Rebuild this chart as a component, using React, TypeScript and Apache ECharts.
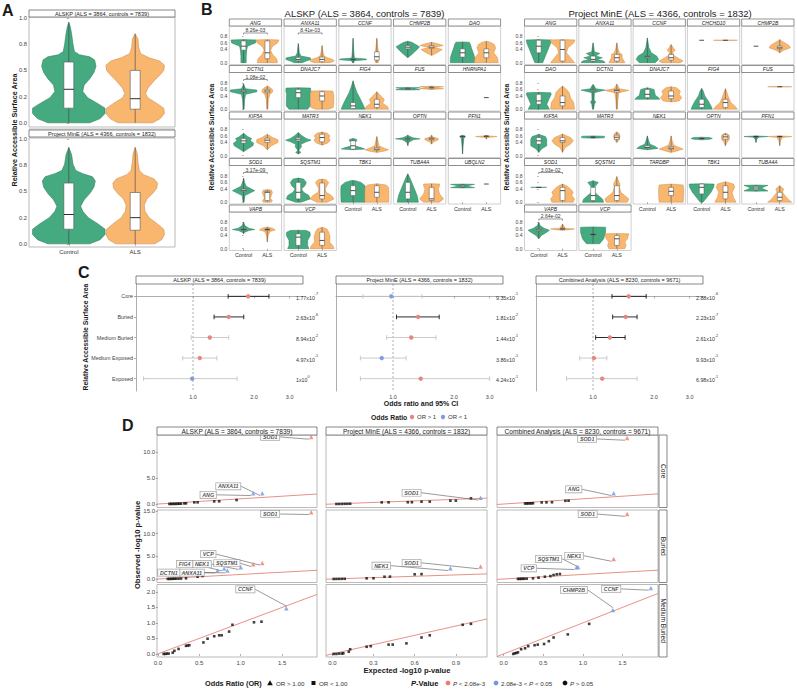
import React, { useEffect, useRef } from "react";
import * as echarts from "echarts";

const FF = "'Liberation Sans', Arial, Helvetica, sans-serif";
const GREEN = "#46AA80";
const GREEN_EDGE = "#2F7F5D";
const ORANGE = "#F9B66F";
const ORANGE_EDGE = "#CF8E4B";
const RED_PT = "#EC7C6C";
const BLUE_PT = "#7497DC";

// ---------------- Panel A ----------------
const groups = ["Control", "ALS"];
const aTitles = ["ALSKP (ALS = 3864, controls = 7839)", "Project MinE (ALS = 4366, controls = 1832)"];
const aTickValues = [0, 0.25, 0.5, 0.75, 1];
const aTickLabels = ["0.0", "0.2", "0.5", "0.8", "1.0"];
const aControlViolins = [
  [[0, 0.3], [0.04, 0.45], [0.09, 0.52], [0.14, 0.52], [0.19, 0.4], [0.24, 0.27], [0.3, 0.2], [0.36, 0.22], [0.42, 0.3], [0.48, 0.36], [0.54, 0.39], [0.6, 0.37], [0.63, 0.3], [0.65, 0.15], [0.68, 0.08], [0.75, 0.06], [0.85, 0.04], [0.92, 0.02], [0.96, 0]],
  [[0, 0.3], [0.04, 0.45], [0.09, 0.52], [0.14, 0.52], [0.19, 0.42], [0.25, 0.28], [0.31, 0.2], [0.36, 0.17], [0.42, 0.22], [0.48, 0.3], [0.54, 0.36], [0.6, 0.38], [0.64, 0.34], [0.67, 0.2], [0.7, 0.1], [0.76, 0.06], [0.85, 0.04], [0.92, 0]],
];
const aAlsViolins = [
  [[0, 0.25], [0.04, 0.36], [0.09, 0.42], [0.14, 0.41], [0.19, 0.3], [0.24, 0.18], [0.28, 0.15], [0.33, 0.18], [0.4, 0.27], [0.46, 0.36], [0.5, 0.41], [0.55, 0.42], [0.59, 0.35], [0.62, 0.2], [0.66, 0.08], [0.72, 0.05], [0.8, 0.04], [0.85, 0]],
  [[0, 0.28], [0.04, 0.38], [0.09, 0.42], [0.14, 0.41], [0.19, 0.32], [0.25, 0.2], [0.31, 0.14], [0.37, 0.13], [0.43, 0.17], [0.48, 0.25], [0.53, 0.31], [0.58, 0.32], [0.62, 0.27], [0.66, 0.12], [0.7, 0.06], [0.78, 0.04], [0.86, 0.03], [0.92, 0]],
];
const aControlBoxes = [[0, 0.14, 0.32, 0.58, 0.96], [0, 0.14, 0.28, 0.58, 0.92]];
const aAlsBoxes = [[0, 0.13, 0.23, 0.5, 0.85], [0, 0.13, 0.25, 0.49, 0.92]];

// ---------------- Panel B ----------------
const bTitles = ["ALSKP (ALS = 3864, controls = 7839)", "Project MinE (ALS = 4366, controls = 1832)"];
const bTickValues = [0, 0.4, 0.6, 0.8];

const alskpGenes = ["ANG", "ANXA11", "CCNF", "CHMP2B", "DAO", "DCTN1", "DNAJC7", "FIG4", "FUS", "HNRNPA1", "KIF5A", "MATR3", "NEK1", "OPTN", "PFN1", "SOD1", "SQSTM1", "TBK1", "TUBA4A", "UBQLN2", "VAPB", "VCP"];
const alskpControlViolins = [
  [[0, 0.1], [0.2, 0.1], [0.4, 0.12], [0.5, 0.15], [0.55, 0.3], [0.6, 0.45], [0.69, 0.47], [0.7, 0]],
  [[0, 0.15], [0.05, 0.3], [0.1, 0.47], [0.15, 0.45], [0.2, 0.1], [0.3, 0.04], [0.45, 0.02], [0.58, 0]],
  [[0, 0.03], [0.06, 0.05], [0.09, 0.5], [0.11, 0.5], [0.14, 0.05], [0.3, 0.03], [0.74, 0]],
  [[0.15, 0], [0.25, 0.15], [0.4, 0.35], [0.48, 0.44], [0.55, 0.3], [0.62, 0.15], [0.65, 0]],
  [[0, 0.46], [0.15, 0.46], [0.3, 0.4], [0.45, 0.33], [0.55, 0.3], [0.62, 0.25], [0.63, 0]],
  [[0, 0.02], [0.3, 0.04], [0.45, 0.08], [0.53, 0.5], [0.58, 0.5], [0.62, 0.08], [0.7, 0.03], [0.77, 0]],
  [[0, 0.35], [0.1, 0.45], [0.3, 0.45], [0.45, 0.44], [0.55, 0.47], [0.64, 0.46], [0.65, 0]],
  [[0, 0.45], [0.1, 0.4], [0.3, 0.28], [0.5, 0.15], [0.7, 0.06], [0.86, 0]],
  [[0.58, 0], [0.59, 0.45], [0.62, 0.2], [0.65, 0.45], [0.66, 0]],
  null,
  [[0.12, 0], [0.2, 0.15], [0.3, 0.35], [0.38, 0.38], [0.45, 0.25], [0.52, 0.3], [0.58, 0.15], [0.68, 0]],
  [[0.05, 0], [0.1, 0.1], [0.15, 0.02], [0.2, 0.05], [0.27, 0.12], [0.35, 0.1], [0.42, 0.3], [0.47, 0.48], [0.52, 0.3], [0.6, 0.15], [0.7, 0]],
  [[0.18, 0], [0.2, 0.44], [0.23, 0.35], [0.3, 0.06], [0.42, 0.06], [0.45, 0.15], [0.5, 0.12], [0.52, 0]],
  [[0.3, 0], [0.4, 0.03], [0.48, 0.2], [0.51, 0.46], [0.54, 0.2], [0.6, 0.03], [0.63, 0]],
  [[0.05, 0], [0.3, 0.02], [0.54, 0.05], [0.57, 0.1], [0.6, 0.08], [0.62, 0]],
  [[0, 0.02], [0.2, 0.05], [0.3, 0.3], [0.35, 0.42], [0.4, 0.3], [0.48, 0.1], [0.6, 0.04], [0.73, 0]],
  [[0, 0.1], [0.1, 0.45], [0.2, 0.4], [0.3, 0.2], [0.4, 0.12], [0.5, 0.25], [0.6, 0.3], [0.7, 0.2], [0.73, 0]],
  [[0, 0.45], [0.2, 0.46], [0.4, 0.46], [0.5, 0.45], [0.6, 0.3], [0.65, 0.1], [0.66, 0]],
  [[0, 0.4], [0.2, 0.35], [0.4, 0.25], [0.6, 0.15], [0.75, 0.07], [0.86, 0]],
  [[0.43, 0], [0.44, 0.45], [0.49, 0.15], [0.54, 0.45], [0.55, 0]],
  [[0.45, 0], [0.5, 0.05], [0.55, 0.2], [0.58, 0.42], [0.62, 0.2], [0.7, 0.05], [0.8, 0]],
  [[0, 0.4], [0.1, 0.35], [0.25, 0.35], [0.4, 0.45], [0.5, 0.44], [0.55, 0.3], [0.56, 0]],
];
const alskpAlsViolins = [
  [[0, 0.38], [0.12, 0.35], [0.25, 0.2], [0.38, 0.12], [0.5, 0.2], [0.6, 0.38], [0.69, 0.44], [0.7, 0]],
  [[0, 0.3], [0.05, 0.46], [0.1, 0.4], [0.15, 0.2], [0.2, 0.08], [0.3, 0.04], [0.52, 0]],
  [[0, 0.05], [0.1, 0.08], [0.3, 0.06], [0.5, 0.03], [0.74, 0]],
  [[0.22, 0], [0.3, 0.2], [0.4, 0.4], [0.46, 0.1], [0.52, 0.44], [0.58, 0.2], [0.62, 0]],
  [[0, 0.45], [0.15, 0.42], [0.3, 0.28], [0.45, 0.35], [0.55, 0.3], [0.62, 0.15], [0.65, 0]],
  [[0, 0.02], [0.3, 0.04], [0.45, 0.1], [0.52, 0.2], [0.6, 0.19], [0.66, 0.1], [0.7, 0]],
  [[0, 0.25], [0.05, 0.42], [0.2, 0.44], [0.4, 0.44], [0.5, 0.42], [0.55, 0.4], [0.56, 0]],
  [[0, 0.45], [0.08, 0.4], [0.18, 0.22], [0.3, 0.28], [0.4, 0.15], [0.53, 0]],
  [[0.6, 0], [0.62, 0.45], [0.65, 0.15], [0.68, 0.45], [0.7, 0]],
  null,
  [[0.18, 0], [0.3, 0.15], [0.4, 0.4], [0.48, 0.4], [0.55, 0.2], [0.65, 0]],
  [[0.32, 0], [0.38, 0.2], [0.45, 0.3], [0.55, 0.25], [0.6, 0.3], [0.68, 0.2], [0.72, 0]],
  [[0.1, 0], [0.14, 0.3], [0.18, 0.44], [0.22, 0.3], [0.3, 0.08], [0.45, 0.04], [0.58, 0]],
  [[0.35, 0], [0.42, 0.08], [0.48, 0.25], [0.52, 0.25], [0.56, 0.08], [0.62, 0]],
  [[0.5, 0], [0.55, 0.05], [0.58, 0.4], [0.6, 0.05], [0.62, 0]],
  [[0, 0.15], [0.05, 0.19], [0.12, 0.1], [0.2, 0.15], [0.3, 0.19], [0.37, 0.15], [0.38, 0]],
  [[0, 0.2], [0.1, 0.45], [0.2, 0.35], [0.3, 0.15], [0.4, 0.12], [0.5, 0.18], [0.6, 0.25], [0.68, 0.15], [0.7, 0]],
  [[0, 0.45], [0.3, 0.45], [0.45, 0.44], [0.52, 0.35], [0.56, 0]],
  [[0, 0.3], [0.1, 0.45], [0.25, 0.3], [0.4, 0.25], [0.5, 0.3], [0.55, 0.3], [0.56, 0]],
  null,
  [[0.2, 0], [0.4, 0.03], [0.52, 0.1], [0.57, 0.3], [0.62, 0.2], [0.66, 0]],
  [[0, 0.45], [0.1, 0.4], [0.2, 0.28], [0.35, 0.3], [0.5, 0.25], [0.6, 0.18], [0.65, 0]],
];
const alskpControlBoxes = [
  [0, 0.38, 0.5, 0.66, 0.7], [0, 0.06, 0.1, 0.16, 0.58], [0, 0.09, 0.1, 0.12, 0.74], [0.15, 0.42, 0.47, 0.52, 0.65], [0, 0.17, 0.3, 0.42, 0.63],
  [0, 0.52, 0.55, 0.58, 0.77], [0, 0.35, 0.5, 0.6, 0.65], [0, 0.02, 0.1, 0.2, 0.86], [0.58, 0.6, 0.62, 0.64, 0.66], null,
  [0.12, 0.38, 0.45, 0.52, 0.68], [0.05, 0.45, 0.5, 0.55, 0.7], [0.18, 0.2, 0.3, 0.45, 0.52], [0.3, 0.49, 0.51, 0.53, 0.63], [0.05, 0.56, 0.58, 0.6, 0.62],
  [0, 0.33, 0.36, 0.4, 0.73], [0, 0.1, 0.3, 0.6, 0.73], [0, 0.2, 0.35, 0.5, 0.66], [0, 0.1, 0.3, 0.6, 0.86], [0.43, 0.46, 0.49, 0.52, 0.55],
  [0.45, 0.56, 0.58, 0.6, 0.8], [0, 0.1, 0.35, 0.45, 0.56],
];
const alskpAlsBoxes = [
  [0, 0.12, 0.3, 0.66, 0.7], [0, 0.03, 0.1, 0.17, 0.52], [0, 0.08, 0.18, 0.33, 0.74], [0.22, 0.43, 0.47, 0.52, 0.62], [0, 0.15, 0.3, 0.42, 0.65],
  [0, 0.5, 0.55, 0.6, 0.7], [0, 0.25, 0.4, 0.53, 0.56], [0, 0.05, 0.15, 0.3, 0.53], [0.6, 0.62, 0.65, 0.67, 0.7], [0.35, 0.35, 0.35, 0.35, 0.35],
  [0.18, 0.4, 0.47, 0.53, 0.65], [0.32, 0.42, 0.55, 0.65, 0.72], [0.1, 0.17, 0.2, 0.25, 0.58], [0.35, 0.48, 0.51, 0.54, 0.62], [0.5, 0.58, 0.59, 0.6, 0.62],
  [0, 0.05, 0.3, 0.33, 0.38], [0, 0.1, 0.2, 0.58, 0.7], [0, 0.15, 0.3, 0.5, 0.56], [0, 0.05, 0.1, 0.45, 0.56], [0.55, 0.55, 0.55, 0.55, 0.55],
  [0.2, 0.56, 0.58, 0.6, 0.66], [0, 0.1, 0.25, 0.5, 0.65],
];
const alskpSigGenes = ["ANG", "ANXA11", "DCTN1", "SOD1"];
const alskpSigP = ["8.26e-03", "8.41e-03", "1.08e-02", "3.17e-09"];

const mineGenes = ["ANG", "ANXA11", "CCNF", "CHCHD10", "CHMP2B", "DAO", "DCTN1", "DNAJC7", "FIG4", "FUS", "KIF5A", "MATR3", "NEK1", "OPTN", "PFN1", "SOD1", "SQSTM1", "TARDBP", "TBK1", "TUBA4A", "VAPB", "VCP"];
const mineControlViolins = [
  [[0, 0.15], [0.2, 0.25], [0.4, 0.35], [0.6, 0.45], [0.69, 0.47], [0.7, 0]],
  [[0, 0.45], [0.05, 0.4], [0.1, 0.15], [0.15, 0.35], [0.2, 0.1], [0.28, 0.25], [0.33, 0.05], [0.45, 0.03], [0.6, 0]],
  [[0, 0.3], [0.1, 0.42], [0.2, 0.35], [0.3, 0.15], [0.45, 0.06], [0.6, 0.03], [0.75, 0]],
  null,
  null,
  [[0, 0.4], [0.15, 0.3], [0.3, 0.38], [0.45, 0.47], [0.5, 0.45], [0.51, 0]],
  [[0, 0.02], [0.15, 0.05], [0.22, 0.1], [0.28, 0.04], [0.5, 0.05], [0.58, 0.45], [0.62, 0.1], [0.7, 0.05], [0.75, 0]],
  [[0.3, 0.47], [0.35, 0.42], [0.42, 0.3], [0.5, 0.28], [0.6, 0.25], [0.65, 0]],
  [[0, 0.4], [0.1, 0.35], [0.25, 0.25], [0.4, 0.12], [0.55, 0.06], [0.63, 0]],
  null,
  [[0.1, 0], [0.2, 0.1], [0.3, 0.3], [0.4, 0.3], [0.5, 0.3], [0.58, 0.25], [0.62, 0.1], [0.65, 0]],
  [[0.53, 0], [0.54, 0.4], [0.57, 0.45], [0.59, 0.4], [0.6, 0]],
  [[0.18, 0], [0.22, 0.4], [0.28, 0.3], [0.35, 0.1], [0.45, 0.05], [0.6, 0]],
  [[0.48, 0], [0.5, 0.3], [0.52, 0.4], [0.55, 0.3], [0.56, 0]],
  [[0.4, 0], [0.5, 0.03], [0.56, 0.1], [0.58, 0.45], [0.6, 0]],
  [[0.445, 0], [0.45, 0.3], [0.455, 0]],
  [[0, 0.4], [0.1, 0.35], [0.2, 0.2], [0.3, 0.06], [0.45, 0.06], [0.55, 0.15], [0.6, 0.2], [0.65, 0]],
  null,
  [[0, 0.05], [0.15, 0.2], [0.3, 0.35], [0.45, 0.45], [0.55, 0.47], [0.56, 0]],
  [[0.33, 0], [0.34, 0.45], [0.43, 0.2], [0.51, 0.45], [0.52, 0]],
  [[0.3, 0], [0.4, 0.1], [0.5, 0.3], [0.56, 0.4], [0.62, 0.2], [0.7, 0.05], [0.8, 0]],
  [[0.15, 0.25], [0.3, 0.4], [0.5, 0.47], [0.65, 0.47], [0.66, 0]],
];
const mineAlsViolins = [
  [[0, 0.45], [0.15, 0.3], [0.3, 0.15], [0.45, 0.2], [0.6, 0.42], [0.69, 0.47], [0.7, 0]],
  [[0, 0.3], [0.08, 0.25], [0.15, 0.2], [0.25, 0.2], [0.3, 0.1], [0.4, 0.05], [0.6, 0]],
  [[0, 0.35], [0.05, 0.45], [0.12, 0.3], [0.22, 0.1], [0.3, 0.06], [0.38, 0.15], [0.45, 0.08], [0.55, 0]],
  [[0.675, 0], [0.68, 0.45], [0.685, 0]],
  [[0.3, 0], [0.38, 0.15], [0.45, 0.4], [0.52, 0.35], [0.6, 0.2], [0.65, 0.08], [0.7, 0]],
  [[0, 0.45], [0.2, 0.42], [0.35, 0.3], [0.5, 0.25], [0.6, 0.15], [0.7, 0]],
  [[0, 0.02], [0.3, 0.04], [0.5, 0.08], [0.57, 0.45], [0.62, 0.1], [0.72, 0.03], [0.76, 0]],
  [[0.22, 0], [0.25, 0.3], [0.35, 0.4], [0.45, 0.3], [0.55, 0.35], [0.65, 0.2], [0.68, 0]],
  [[0, 0.45], [0.1, 0.35], [0.2, 0.2], [0.3, 0.15], [0.4, 0.1], [0.5, 0.06], [0.62, 0]],
  [[0.675, 0], [0.68, 0.45], [0.685, 0]],
  [[0.1, 0], [0.25, 0.1], [0.35, 0.3], [0.45, 0.4], [0.55, 0.3], [0.62, 0.1], [0.66, 0]],
  [[0.4, 0], [0.5, 0.1], [0.6, 0.12], [0.68, 0.08], [0.72, 0]],
  [[0.1, 0], [0.15, 0.25], [0.2, 0.45], [0.25, 0.3], [0.32, 0.1], [0.45, 0.04], [0.6, 0]],
  [[0.3, 0], [0.4, 0.05], [0.5, 0.15], [0.6, 0.15], [0.65, 0.1], [0.68, 0]],
  [[0.3, 0], [0.45, 0.03], [0.55, 0.1], [0.58, 0.45], [0.6, 0]],
  [[0, 0.4], [0.1, 0.45], [0.2, 0.35], [0.3, 0.4], [0.4, 0.3], [0.5, 0.15], [0.55, 0]],
  [[0, 0.4], [0.1, 0.45], [0.2, 0.3], [0.3, 0.15], [0.45, 0.1], [0.55, 0.12], [0.65, 0.06], [0.78, 0]],
  [[0, 0.45], [0.2, 0.47], [0.4, 0.47], [0.52, 0.45], [0.55, 0]],
  [[0, 0.4], [0.15, 0.3], [0.3, 0.25], [0.45, 0.35], [0.55, 0.3], [0.62, 0]],
  [[0, 0.45], [0.1, 0.3], [0.2, 0.2], [0.3, 0.1], [0.4, 0.15], [0.5, 0]],
  [[0.56, 0], [0.57, 0.2], [0.6, 0.45], [0.62, 0.1], [0.7, 0.04], [0.75, 0]],
  [[0, 0.3], [0.1, 0.35], [0.2, 0.3], [0.3, 0.4], [0.45, 0.45], [0.46, 0]],
];
const mineControlBoxes = [
  [0, 0.3, 0.5, 0.68, 0.7], [0, 0.05, 0.1, 0.2, 0.6], [0, 0.15, 0.18, 0.2, 0.75], [0.68, 0.68, 0.68, 0.68, 0.68], [0.5, 0.5, 0.5, 0.5, 0.5],
  [0, 0.15, 0.25, 0.45, 0.51], [0, 0.55, 0.58, 0.6, 0.75], [0.3, 0.35, 0.45, 0.6, 0.65], [0, 0.05, 0.15, 0.3, 0.63], null,
  [0.1, 0.35, 0.45, 0.55, 0.65], [0.53, 0.55, 0.56, 0.57, 0.6], [0.18, 0.22, 0.25, 0.3, 0.6], [0.48, 0.5, 0.52, 0.54, 0.56], [0.4, 0.57, 0.58, 0.59, 0.6],
  [0.45, 0.45, 0.45, 0.45, 0.45], [0, 0.05, 0.2, 0.45, 0.65], null, [0, 0.25, 0.45, 0.55, 0.56], [0.33, 0.38, 0.43, 0.48, 0.52],
  [0.3, 0.54, 0.57, 0.6, 0.8], [0.15, 0.42, 0.43, 0.44, 0.66],
];
const mineAlsBoxes = [
  [0, 0.05, 0.4, 0.68, 0.7], [0, 0.05, 0.15, 0.25, 0.6], [0, 0.08, 0.15, 0.25, 0.55], [0.68, 0.68, 0.68, 0.68, 0.68], [0.3, 0.42, 0.45, 0.5, 0.7],
  [0, 0.1, 0.2, 0.4, 0.7], [0, 0.52, 0.57, 0.6, 0.76], [0.22, 0.32, 0.4, 0.55, 0.68], [0, 0.05, 0.2, 0.3, 0.62], [0.68, 0.68, 0.68, 0.68, 0.68],
  [0.1, 0.4, 0.45, 0.55, 0.66], [0.4, 0.5, 0.56, 0.62, 0.72], [0.1, 0.2, 0.23, 0.28, 0.6], [0.3, 0.5, 0.57, 0.63, 0.68], [0.3, 0.57, 0.58, 0.59, 0.6],
  [0, 0.05, 0.35, 0.45, 0.55], [0, 0.05, 0.2, 0.5, 0.78], [0, 0.2, 0.33, 0.45, 0.55], [0, 0.1, 0.3, 0.5, 0.62], [0, 0.05, 0.15, 0.3, 0.5],
  [0.56, 0.58, 0.6, 0.62, 0.75], [0, 0.1, 0.3, 0.4, 0.46],
];
const mineSigGenes = ["SOD1", "VAPB"];
const mineSigP = ["3.03e-02", "2.64e-02"];

// ---------------- Panel C ----------------
const cTitles = ["ALSKP (ALS = 3864, controls = 7839)", "Project MinE (ALS = 4366, controls = 1832)", "Combined Analysis (ALS = 8230, controls = 9671)"];
const cLevels = ["Core", "Buried", "Medium Buried", "Medium Exposed", "Exposed"];
const cTicks = [1, 2, 3];
const cOrALSKP = [1.87, 1.5, 1.21, 1.08, 0.99];
const cLoALSKP = [1.49, 1.27, 0.98, 0.89, 0.57];
const cHiALSKP = [2.37, 1.78, 1.5, 1.31, 1.65];
const cPALSKP = [1.77e-7, 2.63e-6, 8.94e-2, 4.97e-1, 1];
const cPTextALSKP = [["1.77", "-7"], ["2.63", "-6"], ["8.94", "-2"], ["4.97", "-1"], ["1", "0"]];
const cOrMinE = [0.98, 1.33, 1.23, 0.88, 1.37];
const cLoMinE = [0.71, 1.04, 0.93, 0.69, 0.69];
const cHiMinE = [1.39, 1.69, 1.63, 1.16, 3.0];
const cPMinE = [9.35e-1, 1.81e-2, 1.44e-1, 3.86e-1, 4.24e-1];
const cPTextMinE = [["9.35", "-1"], ["1.81", "-2"], ["1.44", "-1"], ["3.86", "-1"], ["4.24", "-1"]];
const cOrComb = [1.5, 1.45, 1.21, 1.01, 1.11];
const cLoComb = [1.24, 1.25, 1.03, 0.86, 0.74];
const cHiComb = [1.83, 1.65, 1.44, 1.17, 1.65];
const cPComb = [2.88e-6, 2.23e-7, 2.61e-2, 9.93e-1, 6.98e-1];
const cPTextComb = [["2.88", "-6"], ["2.23", "-7"], ["2.61", "-2"], ["9.93", "-1"], ["6.98", "-1"]];

// ---------------- Panel D ----------------
const dColTitles = cTitles;
const dRowTitles = ["Core", "Buried", "Medium Buried"];
const dColTicks = [[0, 0.5, 1, 1.5], [0, 0.3, 0.6, 0.9], [0, 0.5, 1, 1.5]];
const dRowTicks = [[0, 5, 10], [0, 5, 10, 15], [0, 0.5, 1, 1.5, 2]];
const qqCoreALSKP = [[0.14, 0.02], [0.16, 0.02], [0.18, 0.03], [0.2, 0.03], [0.22, 0.04], [0.24, 0.05], [0.26, 0.06], [0.28, 0.07], [0.32, 0.13], [0.34, 0.14], [0.44, 0.32], [0.48, 0.33], [0.68, 0.51], [0.74, 0.52], [0.95, 0.77]];
const qqCoreMinE = [[0.03, 0.01], [0.05, 0.02], [0.07, 0.03], [0.09, 0.04], [0.11, 0.05], [0.13, 0.06], [0.36, 0.32], [0.41, 0.33], [0.55, 0.34], [0.58, 0.35], [0.65, 0.45], [0.71, 0.46], [0.86, 0.64], [0.9, 0.65], [1.01, 1.09]];
const qqCoreComb = [[0.27, 0.1], [0.29, 0.11], [0.31, 0.12], [0.33, 0.13], [0.35, 0.14], [0.37, 0.15], [0.48, 0.3], [0.54, 0.32], [0.61, 0.34], [0.78, 0.62], [0.82, 0.64]];
const qqBuriedALSKP = [[0.12, 0.02], [0.14, 0.03], [0.16, 0.04], [0.18, 0.05], [0.2, 0.06], [0.22, 0.07], [0.25, 0.08], [0.28, 0.1], [0.34, 0.15], [0.48, 0.5], [0.54, 0.66]];
const qqBuriedMinE = [[0.01, 0.01], [0.03, 0.02], [0.05, 0.03], [0.07, 0.04], [0.09, 0.05], [0.25, 0.15], [0.3, 0.17], [0.38, 0.5], [0.42, 0.52], [0.6, 1.03], [0.65, 1.08]];
const qqBuriedComb = [[0.18, 0.02], [0.2, 0.03], [0.22, 0.04], [0.24, 0.05], [0.26, 0.06], [0.29, 0.07], [0.37, 0.15], [0.44, 0.29], [0.52, 0.5], [0.59, 0.64], [0.63, 0.88], [0.67, 1.03], [0.71, 1.1]];
const qqMedALSKP = [[0.07, 0], [0.09, 0], [0.11, 0.01], [0.13, 0.01], [0.18, 0.04], [0.2, 0.1], [0.25, 0.16], [0.34, 0.26], [0.36, 0.27], [0.38, 0.28], [0.55, 0.37], [0.6, 0.49], [0.68, 0.57], [0.74, 0.6], [0.77, 0.6], [0.86, 0.72], [0.9, 0.94], [1.16, 1.02], [1.25, 1.04]];
const qqMedMinE = [[0.01, 0], [0.03, 0], [0.05, 0.01], [0.07, 0.01], [0.08, 0.02], [0.12, 0.07], [0.13, 0.15], [0.25, 0.23], [0.28, 0.25], [0.41, 0.3], [0.44, 0.3], [0.54, 0.34], [0.65, 0.53], [0.71, 0.6], [0.95, 0.94], [1.01, 0.97]];
const qqMedComb = [[0.12, 0], [0.14, 0.02], [0.16, 0.03], [0.18, 0.05], [0.22, 0.15], [0.27, 0.18], [0.31, 0.25], [0.39, 0.28], [0.43, 0.3], [0.51, 0.32], [0.57, 0.41], [0.63, 0.53], [0.81, 0.63], [1.08, 0.97]];
const hitsCoreALSKP = [["SOD1", 1.85, 12.9, "strong"], ["ANG", 1.15, 2.06, "nominal"], ["ANXA11", 1.26, 2.06, "nominal"]];
const hitsCoreMinE = [["SOD1", 1.08, 1.2, "nominal"]];
const hitsCoreComb = [["SOD1", 1.56, 12.7, "strong"], ["ANG", 1.39, 2.06, "nominal"]];
const hitsBuriedALSKP = [["SOD1", 1.85, 14.7, "strong"], ["VCP", 1.26, 3.55, "strong"], ["SQSTM1", 1.15, 3.25, "strong"], ["NEK1", 1.0, 2.6, "nominal"], ["FIG4", 0.8, 2.3, "nominal"], ["ANXA11", 0.84, 1.85, "nominal"], ["DCTN1", 0.72, 1.85, "nominal"]];
const hitsBuriedMinE = [["SOD1", 1.08, 2.75, "strong"], ["NEK1", 0.86, 2.36, "nominal"]];
const hitsBuriedComb = [["SOD1", 1.56, 14.3, "strong"], ["NEK1", 1.39, 4.4, "strong"], ["SQSTM1", 0.94, 2.62, "nominal"], ["VCP", 0.92, 2.58, "nominal"]];
const hitsMedALSKP = [["CCNF", 1.55, 1.47, "nominal"]];
const hitsMedMinE: any[] = [];
const hitsMedComb = [["CCNF", 1.86, 2.13, "nominal"], ["CHMP2B", 1.38, 1.42, "nominal"]];

function buildOption() {
  const grid: any[] = [], xAxis: any[] = [], yAxis: any[] = [], series: any[] = [], els: any[] = [];
  const addGrid = (left: number, top: number, width: number, height: number, xa: any, ya: any, border: string | null) => {
    const i = grid.length;
    grid.push({ left, top, width, height, show: !!border, borderColor: border || "#ccc", borderWidth: 0.8, backgroundColor: "transparent" });
    xAxis.push({ gridIndex: i, ...xa });
    yAxis.push({ gridIndex: i, ...ya });
    return i;
  };
  const text = (x: number, y: number, s: string, size: number, o: any = {}) => {
    els.push({
      type: "text", x, y, rotation: o.rot || 0, z: 20, silent: true,
      style: {
        text: s, fontFamily: FF, fontSize: size, fontWeight: o.bold ? "bold" : "normal",
        fontStyle: o.italic ? "italic" : "normal", fill: o.color || "#1a1a1a",
        align: o.align || "center", verticalAlign: o.va || "middle", rich: o.rich,
      },
    });
  };
  const rect = (x: number, y: number, w: number, h: number, stroke: string, fill = "#fff", lw = 0.7) =>
    els.push({ type: "rect", z: 19, silent: true, shape: { x, y, width: w, height: h }, style: { fill, stroke, lineWidth: lw } });
  const strip = (x: number, y: number, w: number, h: number, label: string, size: number, o: any = {}) => {
    rect(x, y, w, h, o.stroke || "#555");
    text(x + w / 2, y + h / 2, label, size, { italic: o.italic, rot: o.rot, color: "#222" });
  };

  const tickStyle = { lineStyle: { color: "#777", width: 0.6 } };
  const violinX = (show: boolean, size: number) => ({
    type: "value", min: -0.6, max: 1.6, splitLine: { show: false }, axisLine: { show: false },
    axisTick: { show, length: 2, customValues: [0, 1], ...tickStyle },
    axisLabel: { show, customValues: [0, 1], formatter: (v: number) => groups[Math.round(v)], fontSize: size, color: "#333", margin: 2, fontFamily: FF },
  });

  const violinSeries = (gi: number, profiles: any[], boxes: any[], wScale: number, boxHalf: number, lw: number) => ({
    type: "custom", xAxisIndex: gi, yAxisIndex: gi, silent: true, z: 3,
    data: [[0, 0], [1, 0]], encode: { x: 0, y: 1 },
    renderItem: (params: any, api: any) => {
      const c = api.value(0);
      const prof = profiles[c];
      const bx = boxes[c];
      const unit = api.size([1, 0])[0];
      const children: any[] = [];
      if (prof) {
        const R: number[][] = [], L: number[][] = [];
        prof.forEach((pt: number[]) => {
          const p = api.coord([c, pt[0]]);
          R.push([p[0] + pt[1] * wScale * unit, p[1]]);
          L.push([p[0] - pt[1] * wScale * unit, p[1]]);
        });
        children.push({
          type: "polygon", shape: { points: R.concat(L.reverse()) },
          style: { fill: c === 0 ? GREEN : ORANGE, stroke: c === 0 ? GREEN_EDGE : ORANGE_EDGE, lineWidth: lw },
        });
      }
      if (bx) {
        const cx = api.coord([c, bx[2]])[0];
        const yl = api.coord([c, bx[0]])[1], y1 = api.coord([c, bx[1]])[1], ym = api.coord([c, bx[2]])[1];
        const y3 = api.coord([c, bx[3]])[1], yh = api.coord([c, bx[4]])[1];
        const bw = boxHalf * unit;
        if (bx[4] > bx[0]) children.push({ type: "line", shape: { x1: cx, y1: yl, x2: cx, y2: yh }, style: { stroke: "#3a3a3a", lineWidth: lw } });
        if (bx[3] > bx[1]) children.push({ type: "rect", shape: { x: cx - bw, y: y3, width: 2 * bw, height: y1 - y3 }, style: { fill: "#fff", stroke: "#555", lineWidth: lw } });
        children.push({ type: "line", shape: { x1: cx - bw, y1: ym, x2: cx + bw, y2: ym }, style: { stroke: "#222", lineWidth: lw * 1.6 } });
      }
      return { type: "group", children };
    },
  });

  const bracketSeries = (gi: number, yv: number, label: string) => ({
    type: "custom", xAxisIndex: gi, yAxisIndex: gi, silent: true, z: 4,
    data: [[0, yv]], encode: { x: 0, y: 1 },
    renderItem: (params: any, api: any) => {
      const a = api.coord([0, api.value(1)]);
      const b = api.coord([1, api.value(1)]);
      const st = { stroke: "#333", lineWidth: 0.5 };
      return {
        type: "group", children: [
          { type: "line", shape: { x1: a[0], y1: a[1], x2: b[0], y2: b[1] }, style: st },
          { type: "line", shape: { x1: a[0], y1: a[1], x2: a[0], y2: a[1] + 1.5 }, style: st },
          { type: "line", shape: { x1: b[0], y1: b[1], x2: b[0], y2: b[1] + 1.5 }, style: st },
          { type: "text", x: (a[0] + b[0]) / 2, y: a[1] - 0.3, style: { text: label, fontSize: 5, fontFamily: FF, fill: "#333", align: "center", verticalAlign: "bottom" } },
        ],
      };
    },
  });

  // ======== Panel A ========
  text(2, 2, "A", 16, { bold: true, align: "left", va: "top" });
  const aGrids = [{ top: 17, h: 110, min: -0.04, max: 1.01, strip: 10 }, { top: 138, h: 109, min: -0.03, max: 1.01, strip: 130 }];
  rect(29, 127, 146, 3, "#dedede", "#dedede", 0);
  aGrids.forEach((g, k) => {
    strip(29, g.strip, 146, 7, aTitles[k], 5.6);
    const gi = addGrid(29, g.top, 146, g.h, violinX(k === 1, 6), {
      type: "value", min: g.min, max: g.max, splitLine: { show: false }, axisLine: { show: false },
      axisTick: { show: true, length: 2, customValues: aTickValues, ...tickStyle },
      axisLabel: {
        customValues: aTickValues, fontSize: 5.8, color: "#444", margin: 2, fontFamily: FF,
        formatter: (v: number) => aTickLabels[aTickValues.findIndex((t) => Math.abs(t - v) < 1e-6)] || "",
      },
    }, "#a8a8a8");
    series.push(violinSeries(gi, [aControlViolins[k], aAlsViolins[k]], [aControlBoxes[k], aAlsBoxes[k]], 1.05, 0.075, 0.6));
  });
  text(14, 130, "Relative Accessible Surface Area", 7.2, { bold: true, rot: Math.PI / 2 });

  // ======== Panel B ========
  text(201, 1, "B", 16, { bold: true, align: "left", va: "top" });
  const bRowTops = [19, 65.5, 112, 158.5, 205];
  const cohorts = [
    { left: 229.3, step: 54.75, genes: alskpGenes, cv: alskpControlViolins, av: alskpAlsViolins, cb: alskpControlBoxes, ab: alskpAlsBoxes, sg: alskpSigGenes, sp: alskpSigP, titleX: 364.5, ytX: 211 },
    { left: 524.5, step: 54.3, genes: mineGenes, cv: mineControlViolins, av: mineAlsViolins, cb: mineControlBoxes, ab: mineAlsBoxes, sg: mineSigGenes, sp: mineSigP, titleX: 660, ytX: 506 },
  ];
  cohorts.forEach((co, k) => {
    text(co.titleX, 13, bTitles[k], 9.5, { color: "#222" });
    text(co.ytX, 137, "Relative Accessible Surface Area", 6.8, { bold: true, rot: Math.PI / 2 });
    co.genes.forEach((gene, i) => {
      const row = Math.floor(i / 5), col = i % 5;
      const x = co.left + col * co.step, w = 52.3, st = bRowTops[row];
      strip(x, st, w, 7, gene, 5, { italic: true, stroke: "#666" });
      const bottom = row === 4 || (row === 3 && col >= 2);
      const first = col === 0;
      const gi = addGrid(x, st + 7, w, 38.5, violinX(bottom, 5.3), {
        type: "value", min: -0.055, max: 1.112, splitLine: { show: false }, axisLine: { show: false },
        axisTick: { show: first, length: 1.5, customValues: bTickValues, ...tickStyle },
        axisLabel: { show: first, customValues: bTickValues, formatter: (v: number) => v.toFixed(1), fontSize: 5, color: "#444", margin: 2, fontFamily: FF },
      }, "#c4c4c4");
      series.push(violinSeries(gi, [co.cv[i], co.av[i]], [co.cb[i], co.ab[i]], 1.12, 0.1, 0.5));
      const si = co.sg.indexOf(gene);
      if (si >= 0) series.push(bracketSeries(gi, 0.9, co.sp[si]));
    });
  });

  // ======== Panel C ========
  text(78, 264, "C", 16, { bold: true, align: "left", va: "top" });
  const cLefts = [136, 336, 536];
  const cData = [
    { or: cOrALSKP, lo: cLoALSKP, hi: cHiALSKP, p: cPALSKP, pt: cPTextALSKP },
    { or: cOrMinE, lo: cLoMinE, hi: cHiMinE, p: cPMinE, pt: cPTextMinE },
    { or: cOrComb, lo: cLoComb, hi: cHiComb, p: cPComb, pt: cPTextComb },
  ];
  cLefts.forEach((left, k) => {
    strip(left, 276, 167, 8, cTitles[k], 5.5);
    const gi = addGrid(left, 284, 167, 107, {
      type: "log", logBase: 10, min: 0.523, max: 3.49, splitLine: { show: false },
      axisLine: { show: true, lineStyle: { color: "#999", width: 0.8 } },
      axisTick: { show: true, length: 2, customValues: cTicks, ...tickStyle },
      axisLabel: { customValues: cTicks, formatter: (v: number) => Number(v).toFixed(1), fontSize: 5.5, color: "#444", margin: 3, fontFamily: FF },
      minorTick: { show: false },
    }, {
      type: "value", inverse: true, min: -0.6, max: 4.6, splitLine: { show: false },
      axisLine: { show: true, lineStyle: { color: "#999", width: 0.8 } },
      axisTick: { show: k === 0, length: 2, customValues: [0, 1, 2, 3, 4], ...tickStyle },
      axisLabel: { show: k === 0, customValues: [0, 1, 2, 3, 4], formatter: (v: number) => cLevels[Math.round(v)], fontSize: 5.4, color: "#444", margin: 3, fontFamily: FF },
    }, null);
    series.push({
      type: "line", xAxisIndex: gi, yAxisIndex: gi, silent: true, symbol: "none", z: 2,
      data: [[1, -0.6], [1, 4.6]], lineStyle: { color: "#9a9a9a", width: 0.8, type: [2, 2] },
    });
    const d = cData[k];
    series.push({
      type: "custom", xAxisIndex: gi, yAxisIndex: gi, silent: true, z: 4,
      data: d.or.map((o, i) => [o, i, d.lo[i], d.hi[i]]), encode: { x: [0, 2, 3], y: 1 },
      renderItem: (params: any, api: any) => {
        const i = params.dataIndex;
        const p = api.coord([api.value(0), api.value(1)]);
        const l = api.coord([api.value(2), api.value(1)]);
        const h = api.coord([api.value(3), api.value(1)]);
        const col = d.p[i] < 0.05 ? "#151515" : "#c4c4c4";
        const st = { stroke: col, lineWidth: 0.9 };
        const cap = 2.3;
        const cs = params.coordSys;
        return {
          type: "group", children: [
            { type: "line", shape: { x1: l[0], y1: l[1], x2: h[0], y2: h[1] }, style: st },
            { type: "line", shape: { x1: l[0], y1: l[1] - cap, x2: l[0], y2: l[1] + cap }, style: st },
            { type: "line", shape: { x1: h[0], y1: h[1] - cap, x2: h[0], y2: h[1] + cap }, style: st },
            { type: "circle", shape: { cx: p[0], cy: p[1], r: 2.2 }, style: { fill: api.value(0) > 1 ? "#E8867B" : "#7F9DE0" } },
            {
              type: "text", x: cs.x + cs.width - 7, y: p[1],
              style: {
                text: `{m|${d.pt[i][0]}x10}{e|${d.pt[i][1]}}`, align: "left", verticalAlign: "middle",
                rich: {
                  m: { fontSize: 5.3, fontFamily: FF, fill: "#333", lineHeight: 8, verticalAlign: "bottom" },
                  e: { fontSize: 3.8, fontFamily: FF, fill: "#333", lineHeight: 8, verticalAlign: "top" },
                },
              },
            },
          ],
        };
      },
    });
  });
  text(85, 337, "Relative Accessible Surface Area", 6.8, { bold: true, rot: Math.PI / 2 });
  text(421, 403, "Odds ratio and 95% CI", 7, { bold: true });
  text(371, 417, "Odds Ratio", 6.8, { bold: true, align: "left" });
  els.push({ type: "circle", z: 20, shape: { cx: 412, cy: 417, r: 2.2 }, style: { fill: "#E8867B" } });
  text(417, 417, "OR > 1", 6, { align: "left", color: "#333" });
  els.push({ type: "circle", z: 20, shape: { cx: 443, cy: 417, r: 2.2 }, style: { fill: "#7F9DE0" } });
  text(448, 417, "OR < 1", 6, { align: "left", color: "#333" });

  // ======== Panel D ========
  text(122, 417, "D", 16, { bold: true, align: "left", va: "top" });
  const dLefts = [157, 326, 497];
  const dWidths = [160, 161, 161];
  const dTops = [435, 510, 584.5];
  const dH = 72.5;
  const colExt = [[-0.01, 1.92], [-0.046, 1.127], [-0.085, 1.95]];
  const rowExt = [[-0.67, 13.27], [-0.77, 15.2], [-0.1, 2.24]];
  const dPoints = [qqCoreALSKP, qqCoreMinE, qqCoreComb, qqBuriedALSKP, qqBuriedMinE, qqBuriedComb, qqMedALSKP, qqMedMinE, qqMedComb];
  const dHits: any[] = [hitsCoreALSKP, hitsCoreMinE, hitsCoreComb, hitsBuriedALSKP, hitsBuriedMinE, hitsBuriedComb, hitsMedALSKP, hitsMedMinE, hitsMedComb];
  const labelOffsets = [
    [[-41, 0], [-45, 1.5], [-34, -7]],
    [[-69, -5]],
    [[-40, 1], [-40, -4]],
    [[-41, 1.7], [-54, -8.7], [-26.3, -1], [-38.7, -3], [-39.5, -4.6], [-35.7, 2], [-48.7, 2]],
    [[-69, -3.7], [-69, -2.6]],
    [[-39.5, 0], [-39.6, -3.3], [-29.5, -8.3], [-47.7, 1]],
    [[-41, -19]],
    [],
    [[-39.7, 1], [-39, -20]],
  ];
  dColTitles.forEach((t, c) => strip(dLefts[c], 427, dWidths[c], 8, t, 6.6));
  dRowTitles.forEach((t, r) => strip(659, dTops[r], 8, dH, t, 6.6, { rot: -Math.PI / 2 }));
  for (let r = 0; r < 3; r++) {
    for (let c = 0; c < 3; c++) {
      const k = r * 3 + c;
      const gi = addGrid(dLefts[c], dTops[r], dWidths[c], dH, {
        type: "value", min: colExt[c][0], max: colExt[c][1], splitLine: { show: false }, axisLine: { show: false },
        axisTick: { show: r === 2, length: 2, customValues: dColTicks[c], ...tickStyle },
        axisLabel: { show: r === 2, customValues: dColTicks[c], formatter: (v: number) => v.toFixed(1), fontSize: 6, color: "#444", margin: 3, fontFamily: FF },
      }, {
        type: "value", min: rowExt[r][0], max: rowExt[r][1], splitLine: { show: false }, axisLine: { show: false },
        axisTick: { show: c === 0, length: 2, customValues: dRowTicks[r], ...tickStyle },
        axisLabel: { show: c === 0, customValues: dRowTicks[r], formatter: (v: number) => v.toFixed(1), fontSize: 6, color: "#444", margin: 2, fontFamily: FF },
      }, "#a8a8a8");
      series.push({
        type: "line", xAxisIndex: gi, yAxisIndex: gi, silent: true, symbol: "none", z: 2, clip: true,
        data: [[colExt[c][0], colExt[c][0]], [colExt[c][1], colExt[c][1]]], lineStyle: { color: "#E58576", width: 0.9 },
      });
      series.push({
        type: "scatter", xAxisIndex: gi, yAxisIndex: gi, silent: true, z: 3,
        symbol: "rect", symbolSize: 2.6, itemStyle: { color: "#111" }, data: dPoints[k],
      });
      const offs = labelOffsets[k];
      series.push({
        type: "scatter", xAxisIndex: gi, yAxisIndex: gi, silent: true, z: 5,
        symbol: "triangle", symbolSize: 4.5,
        data: dHits[k].map((h: any[]) => ({ name: h[0], value: [h[1], h[2]], itemStyle: { color: h[3] === "strong" ? RED_PT : BLUE_PT } })),
        label: {
          show: true, position: "inside", formatter: "{b}", fontSize: 5.3, fontStyle: "italic", fontWeight: "bold",
          fontFamily: FF, color: "#222", backgroundColor: "#fff", borderColor: "#888", borderWidth: 0.6, padding: [1, 2, 0.5, 2],
        },
        labelLine: { show: true, lineStyle: { color: "#555", width: 0.6 } },
        labelLayout: (p: any) => {
          const o = offs[p.dataIndex] || [0, 0];
          return { dx: o[0], dy: o[1] };
        },
      });
    }
  }
  text(137, 545, "Observed -log10 p-value", 7.6, { bold: true, rot: Math.PI / 2 });
  text(407, 670, "Expected -log10 p-value", 7.6, { bold: true });
  // legends
  text(205, 683, "Odds Ratio (OR)", 7.3, { bold: true, align: "left" });
  els.push({ type: "polygon", z: 20, shape: { points: [[270, 680.2], [272.8, 685.3], [267.2, 685.3]] }, style: { fill: "#111" } });
  text(276, 683, "OR > 1.00", 6.2, { align: "left", color: "#333" });
  els.push({ type: "rect", z: 20, shape: { x: 311.5, y: 681, width: 4, height: 4 }, style: { fill: "#111" } });
  text(319, 683, "OR < 1.00", 6.2, { align: "left", color: "#333" });
  const richLeg = {
    i: { fontStyle: "italic", fontSize: 6.2, fontFamily: FF, fill: "#333" },
    n: { fontSize: 6.2, fontFamily: FF, fill: "#333" },
    bi: { fontStyle: "italic", fontWeight: "bold", fontSize: 7.6, fontFamily: FF, fill: "#111" },
    b: { fontWeight: "bold", fontSize: 7.6, fontFamily: FF, fill: "#111" },
  };
  text(411, 683, "{bi|P}{b|-Value}", 7.6, { align: "left", rich: richLeg });
  els.push({ type: "circle", z: 20, shape: { cx: 448, cy: 683, r: 2.4 }, style: { fill: RED_PT } });
  text(453, 683, "{i|P}{n| < 2.08e-3}", 6.2, { align: "left", rich: richLeg });
  els.push({ type: "circle", z: 20, shape: { cx: 496, cy: 683, r: 2.4 }, style: { fill: BLUE_PT } });
  text(501, 683, "{n|2.08e-3 < }{i|P}{n| < 0.05}", 6.2, { align: "left", rich: richLeg });
  els.push({ type: "circle", z: 20, shape: { cx: 565, cy: 683, r: 2.4 }, style: { fill: "#111" } });
  text(570, 683, "{i|P}{n| > 0.05}", 6.2, { align: "left", rich: richLeg });

  return {
    animation: false,
    backgroundColor: "#fff",
    grid, xAxis, yAxis, series,
    graphic: { elements: els },
  };
}

export default function App() {
  const ref = useRef<HTMLDivElement>(null);
  useEffect(() => {
    const chart = echarts.init(ref.current as HTMLDivElement, null, { renderer: "svg" });
    chart.setOption(buildOption() as any);
    return () => chart.dispose();
  }, []);
  return <div ref={ref} style={{ position: "absolute", left: 0, top: 0, width: 797, height: 690, background: "#fff" }} />;
}
